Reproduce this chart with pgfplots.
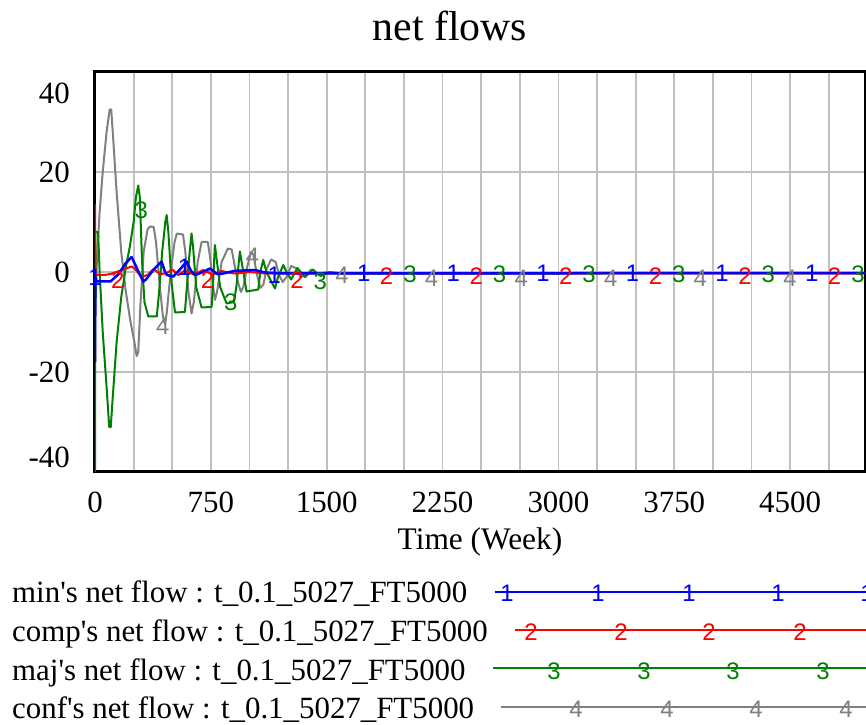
\documentclass[border=0pt]{standalone}
\usepackage{fontspec}
\setmainfont{Liberation Serif}
\newfontfamily\markfont{Liberation Sans}
\usepackage{pgfplots}
\pgfplotsset{compat=1.18}
\definecolor{vgrid}{RGB}{192,192,192}
\definecolor{vgray}{RGB}{128,128,128}
\definecolor{vgreen}{RGB}{0,128,0}
\definecolor{vred}{RGB}{255,0,0}
\definecolor{vblue}{RGB}{0,0,255}
\newcommand{\bigf}{\fontsize{31}{31}\selectfont}
\newcommand{\tkf}{\fontsize{31}{31}\selectfont}
\newcommand{\mkf}{\markfont\fontsize{24}{24}\selectfont}

\begin{document}
\begin{tikzpicture}[x=1bp,y=1bp]
\path[use as bounding box] (-95,-253) rectangle (771,472);
\begin{axis}[
  at={(0,0)}, anchor=south west,
  width=770bp, height=400bp, scale only axis,
  xmin=0, xmax=4985, ymin=-40, ymax=40,
  xtick={0,750,...,4500},
  minor xtick={250,500,...,4750},
  ytick={-40,-20,...,40},
  grid=both,
  major grid style={vgrid, line width=1.8bp},
  minor grid style={vgrid, line width=1.8bp},
  major tick length=0pt, minor tick length=0pt,
  axis line style={line width=3bp, black},
  /pgf/number format/assume math mode=true,
  /pgf/number format/set thousands separator={},
  ticklabel style={font=\tkf, inner sep=0pt},
  xticklabel style={anchor=north, yshift=-20bp},
  yticklabel style={anchor=east, xshift=-25bp},
  yticklabel={\ifnum\ticknum=0\relax\raisebox{15bp}[\height][\depth]{\pgfmathprintnumber{\tick}}\else\ifnum\ticknum=4\relax\raisebox{-21bp}[\height][\depth]{\pgfmathprintnumber{\tick}}\else\pgfmathprintnumber{\tick}\fi\fi},
  xlabel={Time (Week)},
  xlabel style={font=\fontsize{31.5}{31.5}\selectfont, at={(axis description cs:0.5,0)}, anchor=base, yshift=-77bp, inner sep=0pt},
  every axis plot/.append style={line join=round},
]
% conf's net flow (4)
\addplot[vgray, line width=2bp] coordinates {
(0,0) (5,-5) (12,2) (30,12) (50,20) (75,28) (95,32.5) (105,32.5) (115,28) (140,16) (170,4)
(200,-4) (230,-10) (255,-14) (270,-16.8) (280,-16) (295,-6) (315,4) (340,8.5) (355,9.1)
(380,9) (395,6) (420,-3) (440,-9) (453,-10.5) (465,-8) (490,0) (515,6) (530,7.7) (570,7.5)
(585,4) (605,-4) (625,-8.3) (640,-6) (665,2) (690,6) (730,6) (745,3) (765,-3) (776,-5.6)
(790,-4) (820,2) (860,4.7) (885,4.5) (900,2) (925,-2) (945,-4) (960,-3) (985,1) (1010,4)
(1025,3.5) (1045,0) (1070,-3.2) (1090,-2.5) (1110,0.5) (1140,2.5) (1170,2) (1190,-0.5)
(1215,-2) (1240,-1) (1270,1.2) (1300,0.8) (1330,-1) (1360,-0.8) (1400,0.5) (1440,-0.5)
(1500,0) (1560,-0.3) (5000,-0.2)};
% maj's net flow (3)
\addplot[vgreen, line width=2bp] coordinates {
(0,-45) (2,8) (20,8) (30,0) (50,-12) (75,-23) (92,-31) (102,-31) (115,-25) (140,-14)
(170,-5) (200,1) (225,5) (250,10) (265,15) (280,17.3) (290,15) (305,2) (320,-6) (345,-8.9)
(400,-8.9) (415,-4) (435,4) (455,10) (464,11.4) (475,8) (495,-2) (518,-8.1) (582,-8)
(595,-3) (610,3) (625,7.7) (635,5) (655,-3) (690,-7.1) (755,-7) (765,-2) (776,5.4) (790,2)
(810,-3) (852,-6.3) (900,-6) (915,-3) (938,4.1) (955,1) (981,-3.9) (1057,-3.5) (1070,0)
(1089,2.4) (1110,0) (1165,-3.3) (1185,-1) (1219,1.4) (1240,0) (1270,-1.5) (1310,0.8)
(1360,-1) (1410,0.5) (1460,-0.8) (1520,0) (1600,-0.3) (5000,-0.2)};
% comp's net flow (2)
\addplot[vred, line width=2bp] coordinates {
(0,13.5) (3,-0.6) (60,-0.6) (100,-0.4) (140,0) (180,0.5) (237,1.1) (260,0.6) (300,-1.0)
(340,-0.6) (380,0.6) (420,-0.4) (460,-0.3) (500,0.5) (540,-0.6) (580,0.3) (640,-0.5)
(700,0.4) (760,-0.5) (820,0.2) (900,-0.3) (1000,0) (1100,-0.3) (5000,-0.3)};
% min's net flow (1)
\addplot[vblue, line width=2.5bp] coordinates {
(0,-18) (3,-1) (10,-1.9) (100,-1.9) (150,-0.5) (200,1.8) (237,3) (260,1.5) (290,-0.5)
(313,-1.9) (330,-1.5) (380,0.5) (431,2.1) (450,0.3) (465,-0.6) (507,-0.9) (550,0.5)
(593,2.1) (620,0.3) (647,-0.6) (700,0) (744,0.7) (790,-0.4) (830,-0.3) (900,0.2)
(1035,0.4) (1100,-0.1) (1200,-0.3) (5000,-0.2)};
% series number marks
\addplot[only marks, color=vgray, mark=text, text mark={4}, text mark as node=true,
  text mark style={font=\mkf, inner sep=0pt}] coordinates {
(439,-10.9) (1019,3.1) (1599,-0.6) (2179,-1.2) (2759,-1.2) (3339,-1.2) (3919,-1.2) (4499,-1.2)};
\addplot[only marks, color=vgreen, mark=text, text mark={3}, text mark as node=true,
  text mark style={font=\mkf, inner sep=0pt}] coordinates {
(299,12.4) (879,-6.0) (1459,-1.9) (2039,-0.4) (2619,-0.4) (3199,-0.4) (3779,-0.4) (4359,-0.4) (4939,-0.4)};
\addplot[only marks, color=vred, mark=text, text mark={2}, text mark as node=true,
  text mark style={font=\mkf, inner sep=0pt}] coordinates {
(148,-1.6) (728,-1.6) (1308,-1.6) (1888,-0.9) (2468,-0.9) (3048,-0.9) (3628,-0.9) (4208,-0.9) (4788,-0.9)};
\addplot[only marks, color=vblue, mark=text, text mark={1}, text mark as node=true,
  text mark style={font=\mkf, inner sep=0pt}] coordinates {
(0,-1) (580,1) (1160,-0.6) (1740,-0.3) (2320,-0.3) (2900,-0.3) (3480,-0.3) (4060,-0.3) (4640,-0.3)};
\end{axis}
% title
\node[anchor=base, font=\fontsize{42}{42}\selectfont, inner sep=0pt] at (355,431) {net flows};
% legend
\node[anchor=base west, font=\bigf, inner sep=0pt] (t1) at (-83,-131) {min\textquotesingle s net flow : t\_0.1\_5027\_FT5000};
\node[anchor=base west, font=\bigf, inner sep=0pt] (t2) at (-83,-169.7) {comp\textquotesingle s net flow : t\_0.1\_5027\_FT5000};
\node[anchor=base west, font=\bigf, inner sep=0pt] (t3) at (-83,-208) {maj\textquotesingle s net flow : t\_0.1\_5027\_FT5000};
\node[anchor=base west, font=\bigf, inner sep=0pt] (t4) at (-83,-246) {conf\textquotesingle s net flow : t\_0.1\_5027\_FT5000};
\coordinate (e1) at ([xshift=27bp]t1.east);
\coordinate (e2) at ([xshift=27bp]t2.east);
\coordinate (e3) at ([xshift=27bp]t3.east);
\coordinate (e4) at ([xshift=27bp]t4.east);
\draw[vblue, line width=2bp] (e1 |- 0,-119.7) -- (771,-119.7);
\draw[vred, line width=2bp] (e2 |- 0,-158) -- (771,-158);
\draw[vgreen, line width=2bp] (e3 |- 0,-196.3) -- (771,-196.3);
\draw[vgray, line width=2bp] (e4 |- 0,-234.7) -- (771,-234.7);
\foreach \xx in {412,503,594,683,772} \node[vblue, font=\mkf, inner sep=0pt] at (\xx,-121.5) {1};
\foreach \xx in {436,526,614,705} \node[vred, font=\mkf, inner sep=0pt] at (\xx,-160) {2};
\foreach \xx in {459,549,638,728} \node[vgreen, font=\mkf, inner sep=0pt] at (\xx,-199) {3};
\foreach \xx in {481,572,661,751} \node[vgray, font=\mkf, inner sep=0pt] at (\xx,-237) {4};
\end{tikzpicture}
\end{document}
